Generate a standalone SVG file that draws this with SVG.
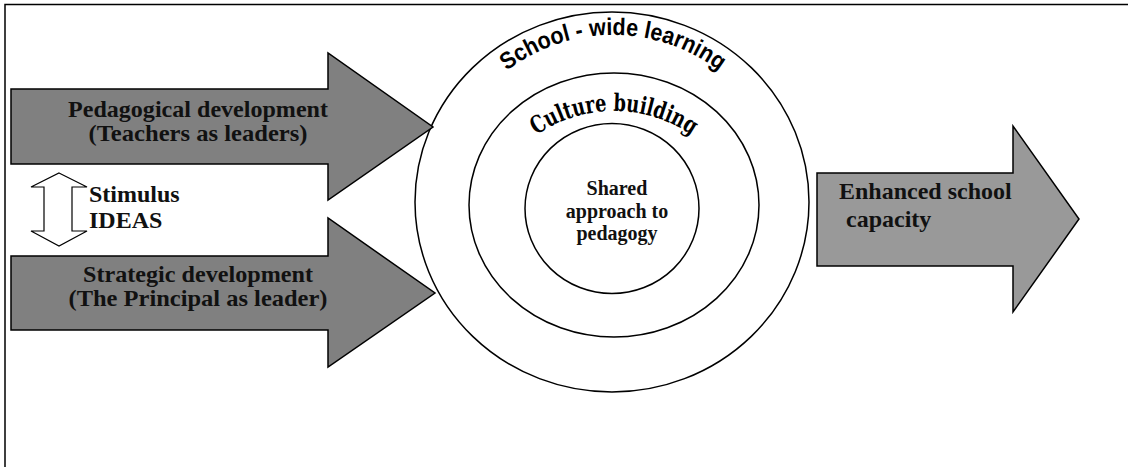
<svg xmlns="http://www.w3.org/2000/svg" width="1128" height="467" viewBox="0 0 1128 467">
<style>
.frame{fill:none;stroke:#000;stroke-width:1.5}
.arrowDark{fill:#808080;stroke:#000;stroke-width:1.5;stroke-linejoin:miter}
.arrowLight{fill:#999999;stroke:#000;stroke-width:1.5}
.dbl{fill:#fff;stroke:#000;stroke-width:1.2}
.ring{fill:#fff;stroke:#000;stroke-width:1.5}
.lbl{font-family:'Liberation Serif','DejaVu Serif',serif;font-weight:700;font-size:24px;fill:#111}
.lbl2{font-family:'Liberation Serif','DejaVu Serif',serif;font-weight:700;font-size:23px;fill:#111;text-anchor:middle}
.ctr{font-family:'Liberation Serif','DejaVu Serif',serif;font-weight:700;font-size:20px;fill:#111;text-anchor:middle}
.arcSans{font-family:'Liberation Sans',Arial,sans-serif;font-weight:700;font-size:24px;fill:#000}
.arcSerif{font-family:'DejaVu Serif','Liberation Serif',serif;font-weight:700;font-size:24px;fill:#000}
</style>
<defs>
<path id="arcOuter" d="M438,210 A175,175 0 0 1 788,210"/>
<path id="arcMiddle" d="M477,248 A137,137 0 0 1 751,248"/>
</defs>
<rect width="1128" height="467" fill="#fff"/>
<path class="frame" d="M5,467 L5,4.5 L1128,4.5"/>
<g id="circles">
<ellipse id="outer" class="ring" cx="612" cy="202" rx="197" ry="190"/>
<ellipse id="middle" class="ring" cx="614" cy="205" rx="145" ry="132"/>
<ellipse id="inner" class="ring" cx="612" cy="208.5" rx="87" ry="85"/>
<text class="arcSans"><textPath href="#arcOuter" startOffset="50%" text-anchor="middle" textLength="228" lengthAdjust="spacingAndGlyphs">School - wide learning</textPath></text>
<text class="arcSerif"><textPath href="#arcMiddle" startOffset="50%" text-anchor="middle" textLength="165" lengthAdjust="spacingAndGlyphs">Culture building</textPath></text>
<text class="ctr" x="617" y="195">Shared</text>
<text class="ctr" x="617" y="218">approach to</text>
<text class="ctr" x="617" y="240">pedagogy</text>
</g>
<g id="pedagogical">
<path class="arrowDark" d="M11,89 L328,89 L328,53 L433,127 L328,200 L328,164 L11,164 Z"/>
<text class="lbl2" x="198" y="117" textLength="260" lengthAdjust="spacingAndGlyphs">Pedagogical development</text>
<text class="lbl2" x="198" y="141" textLength="219" lengthAdjust="spacingAndGlyphs">(Teachers as leaders)</text>
</g>
<g id="strategic">
<path class="arrowDark" d="M11,256 L328,256 L328,218 L435,293 L328,367 L328,330 L11,330 Z"/>
<text class="lbl2" x="198" y="282" textLength="230" lengthAdjust="spacingAndGlyphs">Strategic development</text>
<text class="lbl2" x="198" y="306" textLength="259" lengthAdjust="spacingAndGlyphs">(The Principal as leader)</text>
</g>
<g id="stimulus">
<text class="lbl" x="89" y="202">Stimulus</text>
<text class="lbl" x="89" y="228">IDEAS</text>
</g>
<g id="enhanced">
<path class="arrowLight" d="M817,173 L1013,173 L1013,126 L1079,219 L1013,312 L1013,266 L817,266 Z"/>
<text class="lbl" x="839" y="199">Enhanced school</text>
<text class="lbl" x="846" y="227">capacity</text>
</g>
<g id="connectors">
<path class="dbl" d="M59,173 L87,187 L72,187 L72,231 L87,231 L59,246 L31,231 L44,231 L44,187 L31,187 Z"/>
</g>
</svg>
